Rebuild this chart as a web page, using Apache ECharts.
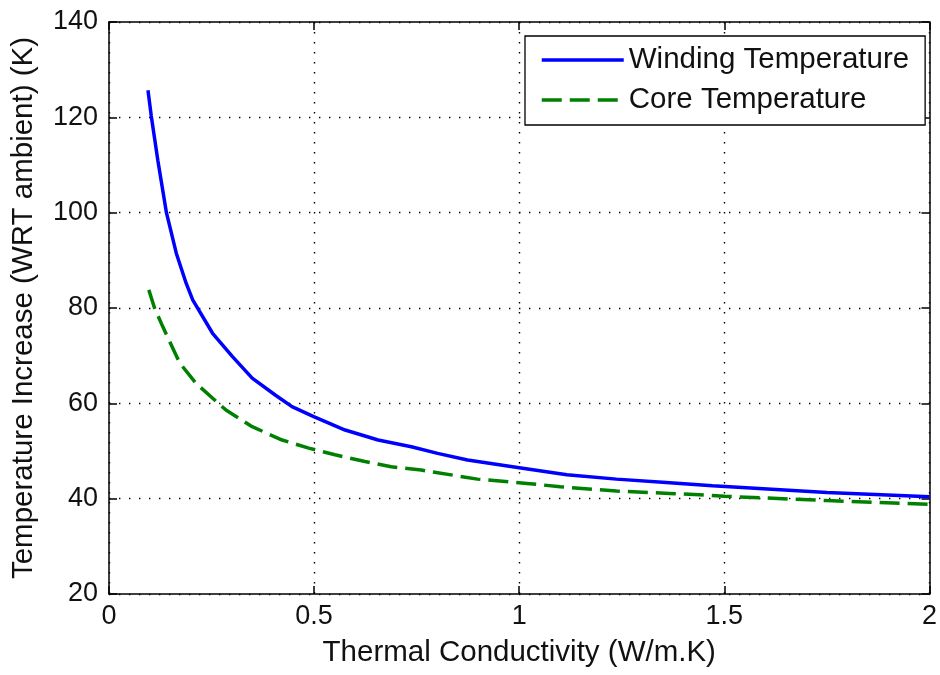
<!DOCTYPE html>
<html>
<head>
<meta charset="utf-8">
<script src="https://cdn.jsdelivr.net/npm/echarts@6/dist/echarts.min.js"></script>
<style>html,body{margin:0;padding:0;background:#fff;}#c{width:940px;height:675px;}</style>
</head>
<body>
<div id="c"></div>
<script>
const windingX = [0.095, 0.103, 0.119, 0.140, 0.164, 0.188, 0.204, 0.2525, 0.301, 0.349, 0.406, 0.446, 0.499, 0.5755, 0.656, 0.737, 0.801, 0.874, 1.0, 1.116, 1.237, 1.358, 1.471, 1.75, 2.0];
const windingY = [125.7, 120.3, 111, 100, 91.5, 85.2, 81.7, 74.7, 69.8, 65.3, 61.7, 59.3, 57.2, 54.4, 52.3, 50.9, 49.5, 48.1, 46.5, 45.0, 44.1, 43.4, 42.7, 41.3, 40.4];
const coreX = [0.097, 0.111, 0.131, 0.172, 0.212, 0.285, 0.349, 0.422, 0.487, 0.551, 0.624, 0.688, 0.761, 0.898, 1.019, 1.1, 1.237, 1.366, 1.439, 1.5, 1.75, 2.0];
const coreY = [83.8, 80, 76.1, 68.5, 64.2, 58.6, 55.1, 52.3, 50.6, 49.2, 47.8, 46.7, 46.0, 44.1, 43.2, 42.5, 41.6, 41.1, 40.8, 40.5, 39.6, 38.8];
const seriesNames = ['Winding Temperature', 'Core Temperature'];
const xTitle = 'Thermal Conductivity (W/m.K)';
const yTitle = 'Temperature Increase (WRT ambient) (K)';

const FONT = '"Liberation Sans", Arial, sans-serif';
const pair = (xs, ys) => xs.map((x, i) => [x, ys[i]]);
const axisLine = { show: true, onZero: false, lineStyle: { color: '#000', width: 1.5 } };
const tick = { show: true, inside: true, length: 8, lineStyle: { color: '#000', width: 1.5 } };
const dotted = { show: true, lineStyle: { color: '#000', width: 1.4, type: [1.4, 8.6] } };

const chart = echarts.init(document.getElementById('c'), null, { renderer: 'canvas' });
chart.setOption({
  animation: false,
  backgroundColor: '#fff',
  grid: { left: 109, top: 22, right: 5, bottom: 81, containLabel: false },
  legend: {
    orient: 'vertical',
    left: 525, top: 36,
    padding: [9, 16, 10, 15],
    itemGap: 10,
    itemWidth: 82, itemHeight: 28,
    backgroundColor: '#fff',
    borderColor: '#000', borderWidth: 1.3, borderRadius: 0,
    itemStyle: { opacity: 0 },
    lineStyle: { width: 3.5 },
    textStyle: { fontFamily: FONT, fontSize: 29.5, color: '#111', lineHeight: 28 },
    data: seriesNames
  },
  xAxis: [{
    type: 'value', min: 0, max: 2, interval: 0.5, position: 'bottom',
    axisLine, axisTick: tick, splitLine: dotted,
    axisLabel: { fontFamily: FONT, fontSize: 27, color: '#111', margin: 9 },
    name: xTitle, nameLocation: 'middle', nameGap: 44,
    nameTextStyle: { fontFamily: FONT, fontSize: 29.5, color: '#111' }
  }, {
    type: 'value', min: 0, max: 2, interval: 0.5, position: 'top',
    axisLine, axisTick: tick, splitLine: { show: false }, axisLabel: { show: false }
  }],
  yAxis: [{
    type: 'value', min: 20, max: 140, interval: 20, position: 'left',
    axisLine, axisTick: tick, splitLine: dotted,
    axisLabel: { fontFamily: FONT, fontSize: 27, color: '#111', margin: 11 },
    name: yTitle, nameLocation: 'middle', nameGap: 70,
    nameTextStyle: { fontFamily: FONT, fontSize: 29.5, color: '#111' }
  }, {
    type: 'value', min: 20, max: 140, interval: 20, position: 'right',
    axisLine, axisTick: tick, splitLine: { show: false }, axisLabel: { show: false }
  }],
  series: [{
    name: seriesNames[0], type: 'line', data: pair(windingX, windingY),
    showSymbol: false, symbol: 'none', smooth: false,
    lineStyle: { color: '#0000ff', width: 3.5 }, itemStyle: { color: '#0000ff' }
  }, {
    name: seriesNames[1], type: 'line', data: pair(coreX, coreY),
    showSymbol: false, symbol: 'none', smooth: false,
    lineStyle: { color: '#008000', width: 3.5, type: [20, 8] }, itemStyle: { color: '#008000' }
  }]
});
</script>
</body>
</html>
